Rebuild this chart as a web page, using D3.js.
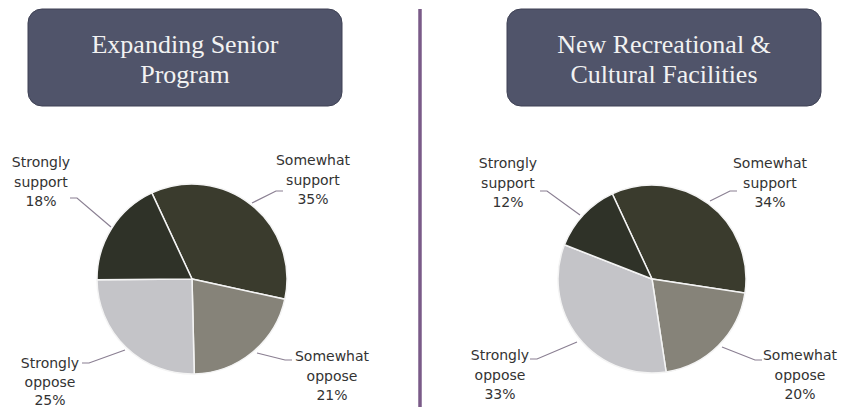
<!DOCTYPE html>
<html>
<head>
<meta charset="utf-8">
<script src="https://cdn.jsdelivr.net/npm/d3@7"></script>
<style>
  body { margin: 0; background: #fff; }
  svg { display: block; }
</style>
</head>
<body>
<script>
// categories in clockwise order, starting at the top-left edge of "Somewhat support"
const categories = ["Somewhat support", "Somewhat oppose", "Strongly oppose", "Strongly support"];
const labelLines = [["Somewhat", "support"], ["Somewhat", "oppose"], ["Strongly", "oppose"], ["Strongly", "support"]];
const seniorValues = [35, 21, 25, 18];
const facilitiesValues = [34, 20, 33, 12];
const titles = [["Expanding Senior", "Program"], ["New Recreational &", "Cultural Facilities"]];
const sliceColors = ["#3a3b2d", "#868379", "#c4c4c8", "#2f3228"];

const W = 842, H = 407;
const svg = d3.select("body").append("svg")
  .attr("width", W)
  .attr("height", H);

// divider
svg.append("line")
  .attr("x1", 420).attr("x2", 420)
  .attr("y1", 9).attr("y2", H)
  .attr("stroke", "#7a5b88")
  .attr("stroke-width", 3.5);

// label placement per panel: [text center x, first line y, line gap, leader points]
const panels = [
  {
    values: seniorValues, title: titles[0], box: [28, 9], cx: 192, cy: 279, r: 95,
    labels: [
      {x: 313, y: 165, gap: 19.5, pts: [[283, 191], [276, 191], [252, 203]]},
      {x: 332, y: 361, gap: 19.5, pts: [[292, 360], [285, 360], [257, 353]]},
      {x: 50,  y: 368, gap: 18.5, pts: [[82, 363], [89, 363], [125, 350]]},
      {x: 41,  y: 167, gap: 19.5, pts: [[70, 198], [77, 198], [111, 227]]}
    ]
  },
  {
    values: facilitiesValues, title: titles[1], box: [507, 9], cx: 652, cy: 279, r: 94,
    labels: [
      {x: 770, y: 168, gap: 19.5, pts: [[737, 191], [730, 191], [710, 201]]},
      {x: 800, y: 360, gap: 19.5, pts: [[762, 360], [755, 360], [722, 347]]},
      {x: 500, y: 360, gap: 19.5, pts: [[530, 359], [537, 359], [577, 342]]},
      {x: 508, y: 168, gap: 19.5, pts: [[540, 191], [547, 191], [580, 215]]}
    ]
  }
];

panels.forEach(function(p) {
  const g = svg.append("g");

  // title box
  g.append("rect")
    .attr("x", p.box[0]).attr("y", p.box[1])
    .attr("width", 314).attr("height", 97)
    .attr("rx", 14)
    .attr("fill", "#50546a")
    .attr("stroke", "#3e4154")
    .attr("stroke-width", 1);

  g.selectAll(".title")
    .data(p.title)
    .enter().append("text")
    .attr("x", p.box[0] + 157)
    .attr("y", (d, i) => p.box[1] + 44 + i * 30)
    .attr("text-anchor", "middle")
    .attr("font-family", "Liberation Serif, serif")
    .attr("font-size", "26px")
    .attr("fill", "#f2f2f2")
    .text(d => d);

  const pie = d3.pie()
    .sort(null)
    .startAngle(-25 * Math.PI / 180)
    .endAngle(335 * Math.PI / 180);
  const arc = d3.arc().innerRadius(0).outerRadius(p.r);

  const arcs = pie(p.values);

  g.append("g")
    .attr("transform", "translate(" + p.cx + "," + p.cy + ")")
    .selectAll("path")
    .data(arcs)
    .enter().append("path")
    .attr("d", arc)
    .attr("fill", (d, i) => sliceColors[i])
    .attr("stroke", "#f4f4f4")
    .attr("stroke-width", 1.5);

  // leader lines
  g.selectAll(".leader")
    .data(p.labels)
    .enter().append("path")
    .attr("d", d => d3.line()(d.pts))
    .attr("fill", "none")
    .attr("stroke", "#8a7f92")
    .attr("stroke-width", 1.2);

  // labels
  p.labels.forEach(function(l, i) {
    const t = g.append("text")
      .attr("text-anchor", "middle")
      .attr("font-family", "DejaVu Sans, Verdana, sans-serif")
      .attr("font-size", "14px")
      .attr("fill", "#333333");
    labelLines[i].concat([p.values[i] + "%"]).forEach(function(s, j) {
      t.append("tspan")
        .attr("x", l.x)
        .attr("y", l.y + j * l.gap)
        .text(s);
    });
  });
});
</script>
</body>
</html>
